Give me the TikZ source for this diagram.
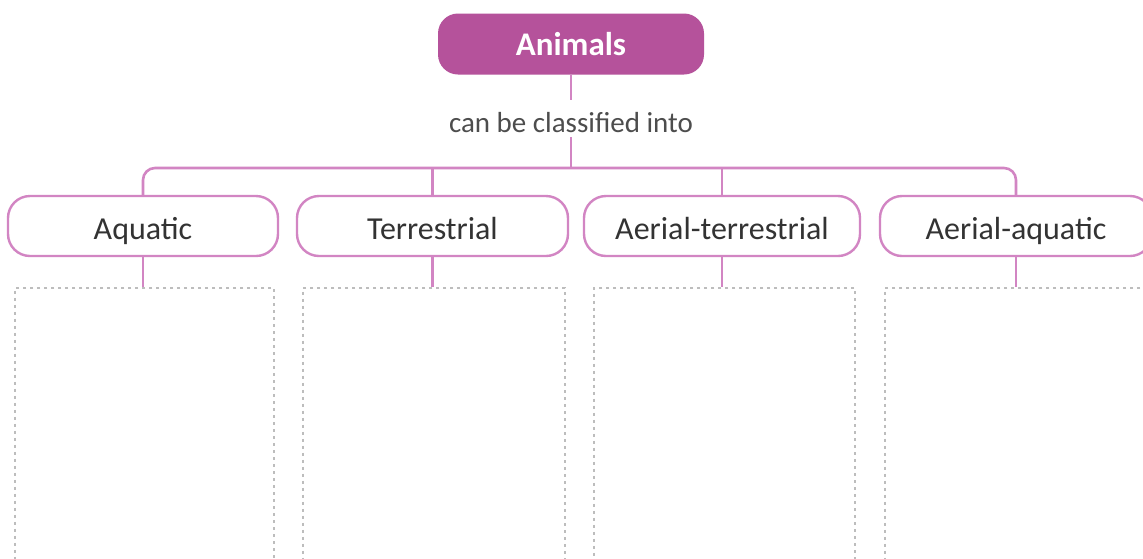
\documentclass[tikz,border=0pt]{standalone}
\usepackage{fontspec}
\setmainfont{Carlito}
\definecolor{mag}{HTML}{B5529B}
\definecolor{pinkline}{HTML}{D285C3}
\definecolor{dashgray}{HTML}{BDBDBD}
\definecolor{txt}{HTML}{333333}
\definecolor{lbltxt}{HTML}{4D4D4D}
\begin{document}
\begin{tikzpicture}[x=1pt,y=-1pt,
  rootbox/.style={fill=mag, rounded corners=20pt, minimum width=266pt, minimum height=61pt,
    inner sep=0pt, text=white, font=\fontsize{33}{36}\selectfont\bfseries, text height=23pt, text depth=0pt},
  catbox/.style={draw=pinkline, line width=2.4pt, rounded corners=22pt, minimum height=60pt,
    inner sep=0pt, text=txt, font=\fontsize{32}{36}\selectfont, text height=26pt, text depth=0pt},
  lblnode/.style={inner sep=0pt, minimum height=37pt, text=lbltxt, font=\fontsize{29}{32}\selectfont,
    text height=27pt, text depth=0pt},
  conn/.style={draw=pinkline, line width=2.6pt},
  slot/.style={draw=dashgray, dash pattern=on 3pt off 4pt, line width=1.6pt, anchor=north, minimum height=340pt}]
\clip (0,0) rectangle (1143,558);
\fill[white] (0,0) rectangle (1143,558);

\node[rootbox] (animals) at (571,44) {Animals};
\node[lblnode] (lbl) at (571,118.5) {can be classified into};
\coordinate (bar) at (571,168);

\node[catbox, minimum width=270pt] (aq) at (143,226) {Aquatic};
\node[catbox, minimum width=271pt] (te) at (432.5,226) {Terrestrial};
\node[catbox, minimum width=276pt] (at) at (722,226) {Aerial-terrestrial};
\node[catbox, minimum width=272pt] (aa) at (1016,226) {Aerial-aquatic};

\node[slot, minimum width=259pt] (dq) at (144.5,287) {};
\node[slot, minimum width=262pt] (dt) at (434,287) {};
\node[slot, minimum width=261pt] (da) at (724.5,287) {};
\node[slot, minimum width=262pt] (dd) at (1016,287) {};

\draw[conn] (animals.south) -- (lbl.north);
\draw[conn] (lbl.south) -- (bar);
\draw[conn, rounded corners=12pt] (aq.north) |- (bar) -| (aa.north);
\draw[conn] (te.north) -- (te.north |- bar);
\draw[conn] (at.north) -- (at.north |- bar);

\draw[conn] (aq.south) -- (aq.south |- dq.north);
\draw[conn] (te.south) -- (te.south |- dt.north);
\draw[conn] (at.south) -- (at.south |- da.north);
\draw[conn] (aa.south) -- (aa.south |- dd.north);
\end{tikzpicture}
\end{document}
